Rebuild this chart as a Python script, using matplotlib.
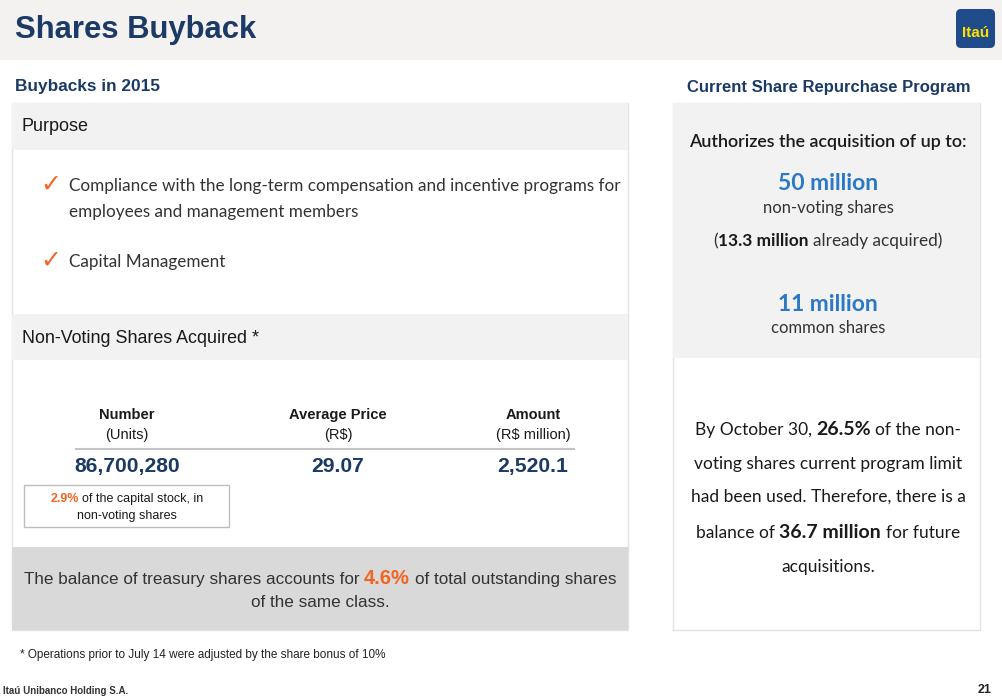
import matplotlib.pyplot as plt
from matplotlib import font_manager
from matplotlib.patches import Rectangle, FancyBboxPatch

# --- slide content ---
title = "Shares Buyback"
logo_text = "Itaú"
left_heading = "Buybacks in 2015"
right_heading = "Current Share Repurchase Program"
purpose_title = "Purpose"
purpose_items = [
    ["Compliance with the long-term compensation and incentive programs for",
     "employees and management members"],
    ["Capital Management"],
]
acquired_title = "Non-Voting Shares Acquired *"
col_names = ["Number", "Average Price", "Amount"]
col_units = ["(Units)", "(R$)", "(R$ million)"]
col_values = ["86,700,280", "29.07", "2,520.1"]
capital_pct = "2.9%"
treasury_pct = "4.6%"
authorized_text = "Authorizes the acquisition of up to:"
limit_non_voting = "50 million"
already_acquired = "13.3 million"
limit_common = "11 million"
used_pct = "26.5%"
balance_left = "36.7 million"
footnote = "* Operations prior to July 14 were adjusted by the share bonus of 10%"
company = "Itaú Unibanco Holding S.A."
page = "21"

NAVY = '#1b3a66'
ORANGE = '#f26522'
BLUE = '#2b78c5'
DARK = '#1a1a1a'
GREY_TXT = '#333333'

installed = {f.name for f in font_manager.fontManager.ttflist}
SANS = ['Liberation Sans', 'DejaVu Sans']
BODY = ['Lato', 'DejaVu Sans'] if 'Lato' in installed else ['Open Sans', 'DejaVu Sans']

fig = plt.figure(figsize=(10.02, 6.99), dpi=100)
ax = fig.add_axes([0, 0, 1, 1])
ax.set_xlim(0, 1002)
ax.set_ylim(699, 0)
ax.axis('off')
renderer = fig.canvas.get_renderer()


def width_of(s, props):
    t = ax.text(0, 0, s, **props)
    w = t.get_window_extent(renderer).width
    t.remove()
    return w


def line(x, y, parts, ha='center', **base):
    # parts: (text, style overrides) drawn one after another on a shared baseline
    pieces = []
    for s, kw in parts:
        props = {**base, **kw}
        sp = width_of('a a', props) - width_of('aa', props)
        core = s.strip()
        lead = sp * (len(s) - len(s.lstrip()))
        trail = sp * (len(s) - len(s.rstrip()))
        pieces.append((core, props, lead, width_of(core, props), trail))
    total = sum(p[2] + p[3] + p[4] for p in pieces)
    x0 = {'left': x, 'center': x - total / 2, 'right': x - total}[ha]
    for core, props, lead, w, trail in pieces:
        x0 += lead
        ax.text(x0, y, core, ha='left', va='baseline', **props)
        x0 += w + trail


# header band
ax.add_patch(Rectangle((0, 0), 1002, 60, fc='#f3f2f1', ec='none'))
ax.text(15, 38, title, family=SANS, fontsize=22.3, fontweight='bold', color=NAVY, va='baseline')
ax.add_patch(FancyBboxPatch((956, 9), 39, 39, boxstyle='round,pad=0,rounding_size=5',
                            fc='#1f4b8a', ec='none'))
ax.text(975.5, 33, logo_text, family=SANS, fontsize=11, fontweight='bold', color='#ffe100',
        ha='center', va='center')

ax.text(15, 91, left_heading, family=SANS, fontsize=12.4, fontweight='bold', color=NAVY, va='baseline')
ax.text(829, 92, right_heading, family=SANS, fontsize=12, fontweight='bold', color=NAVY,
        ha='center', va='baseline')

# left panel
ax.add_patch(Rectangle((12, 103), 616, 527, fc='white', ec='#e2e2e2', lw=1))
ax.add_patch(Rectangle((12, 103), 616, 47, fc='#f2f2f2', ec='none'))
ax.text(22, 131, purpose_title, family=SANS, fontsize=13, color=DARK, va='baseline')

y = 191
for item in purpose_items:
    ax.text(40, y - 6, '✓', family=['DejaVu Sans'], fontsize=18, color=ORANGE, va='center')
    for txt in item:
        ax.text(69, y, txt, family=BODY, fontsize=12.3, color=GREY_TXT, va='baseline')
        y += 26
    y += 24

ax.add_patch(Rectangle((12, 314), 616, 46, fc='#f2f2f2', ec='none'))
ax.text(22, 343, acquired_title, family=SANS, fontsize=12.9, color=DARK, va='baseline')

col_x = [127, 338, 533]
for cx, name, unit, val in zip(col_x, col_names, col_units, col_values):
    ax.text(cx, 419, name, family=SANS, fontsize=10.5, fontweight='bold', color=DARK,
            ha='center', va='baseline')
    ax.text(cx, 439, unit, family=SANS, fontsize=10.5, color=DARK, ha='center', va='baseline')
    ax.text(cx, 472, val, family=SANS, fontsize=15.2, fontweight='bold', color=NAVY,
            ha='center', va='baseline')
ax.plot([76, 574], [449, 449], color='#c4c4c4', lw=1.5)

ax.add_patch(Rectangle((24, 485), 205, 42, fc='white', ec='#bdbdbd', lw=1))
line(127, 502, [(capital_pct, dict(color=ORANGE, fontweight='bold')),
                (" of the capital stock, in", {})], family=SANS, fontsize=9, color=DARK)
line(127, 519, [("non-voting shares", {})], family=SANS, fontsize=9, color=DARK)

ax.add_patch(Rectangle((12, 547), 616, 83, fc='#d9d9d9', ec='none'))
line(320, 584, [("The balance of treasury shares accounts for ", {}),
                (treasury_pct, dict(color=ORANGE, fontweight='bold', fontsize=14.5)),
                (" of total outstanding shares", {})],
     family=SANS, fontsize=12.3, color=GREY_TXT)
line(320, 607, [("of the same class.", {})], family=SANS, fontsize=12.3, color=GREY_TXT)

# right panel
ax.add_patch(Rectangle((673, 103), 307, 527, fc='white', ec='#e2e2e2', lw=1))
ax.add_patch(Rectangle((673, 103), 307, 255, fc='#f2f2f2', ec='none'))
cx = 828
line(cx, 147, [(authorized_text, dict(fontweight='semibold'))], family=BODY, fontsize=12.9, color=DARK)
line(cx, 190, [(limit_non_voting, {})], family=BODY, fontsize=16.5, fontweight='bold', color=BLUE)
line(cx, 213, [("non-voting shares", {})], family=BODY, fontsize=12, color=GREY_TXT)
line(cx, 246, [("(", {}), (already_acquired, dict(fontweight='bold', color=DARK)),
               (" already acquired)", {})], family=BODY, fontsize=12.4, color=GREY_TXT)
line(cx, 311, [(limit_common, {})], family=BODY, fontsize=16.5, fontweight='bold', color=BLUE)
line(cx, 333, [("common shares", {})], family=BODY, fontsize=12, color=GREY_TXT)

body = dict(family=BODY, fontsize=12.5, color=DARK)
big = dict(fontweight='bold', fontsize=14)
line(cx, 435, [("By October 30, ", {}), (used_pct, big), (" of the non-", {})], **body)
line(cx, 469, [("voting shares current program limit", {})], **body)
line(cx, 502, [("had been used. Therefore, there is a", {})], **body)
line(cx, 538, [("balance of ", {}), (balance_left, big), (" for future", {})], **body)
line(cx, 572, [("acquisitions.", {})], **body)

# footer
ax.text(20, 658, footnote, family=SANS, fontsize=8.5, color='#222222', va='baseline')
ax.text(3, 694, company, family=SANS, fontsize=7, fontweight='bold', color='#333333', va='baseline')
ax.text(992, 693, page, family=SANS, fontsize=9, fontweight='bold', color='#222222',
        ha='right', va='baseline')

fig.savefig('out.png', dpi=100)
